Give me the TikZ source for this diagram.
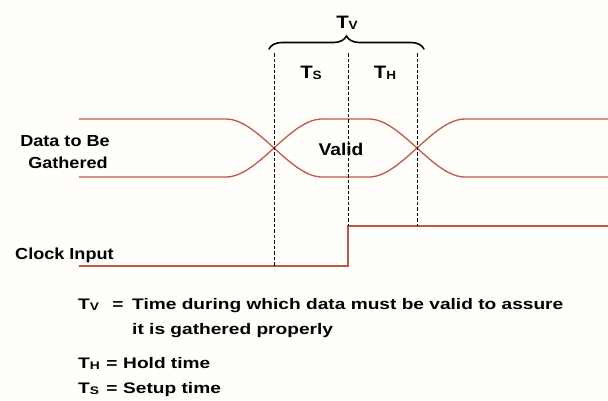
\documentclass[tikz,border=0pt]{standalone}
\usepackage{fontspec}
\setmainfont{Liberation Sans}
\newfontfamily\labfont[FakeStretch=1.13]{Liberation Sans}
\newfontfamily\legfont[FakeStretch=1.25]{Liberation Sans}
\usetikzlibrary{decorations.pathreplacing}
\definecolor{wavecol}{RGB}{192,88,72}
\definecolor{paper}{RGB}{255,254,250}
\newcommand\mysub[2][11]{\raisebox{-1pt}{\fontsize{#1}{#1}\selectfont #2}}
\begin{document}
\begin{tikzpicture}[x=1pt,y=-1pt,
  wave/.style={draw=wavecol, line width=1.3pt},
  guide/.style={draw=black, line width=0.9pt, dash pattern=on 3.5pt off 2pt},
  lab/.style={inner sep=0pt, anchor=base, font=\labfont\bfseries\fontsize{16}{16}\selectfont},
  leg/.style={inner sep=0pt, anchor=base west, font=\legfont\bfseries\fontsize{15.3}{16}\selectfont},
  tlab/.style={inner sep=0pt, anchor=base, font=\labfont\bfseries\fontsize{18}{18}\selectfont}]
\useasboundingbox (0,0) rectangle (608,400);
\fill[paper] (0,0) rectangle (608,400);
% waveform coordinates
\coordinate (ts) at (79,119);
\coordinate (bs) at (79,177);
\coordinate (l1t) at (226,119);
\coordinate (l1b) at (226,177);
\coordinate (l2t) at (322,119);
\coordinate (l2b) at (322,177);
\coordinate (r1t) at (369,119);
\coordinate (r1b) at (369,177);
\coordinate (r2t) at (465,119);
\coordinate (r2b) at (465,177);
\coordinate (te) at (608,119);
\coordinate (be) at (608,177);
% data waveform
\draw[wave] (ts) -- (l1t) .. controls (258,119) and (290,177) .. (l2b) -- (r1b)
  .. controls (401,177) and (433,119) .. (r2t) -- (te);
\draw[wave] (bs) -- (l1b) .. controls (258,177) and (290,119) .. (l2t) -- (r1t)
  .. controls (401,119) and (433,177) .. (r2b) -- (be);
% clock
\coordinate (cs) at (79,266);
\coordinate (cl) at (348,266);
\coordinate (ch) at (348,226);
\coordinate (ce) at (608,226);
\draw[wave] (cs) -- (cl) -- (ch) -- (ce);
% dashed guides
\coordinate (g1a) at (274,53);
\coordinate (g1b) at (274,266);
\coordinate (g2a) at (348,53);
\coordinate (g3a) at (417,53);
\coordinate (g3b) at (417,226);
\draw[guide] (g1a) -- (g1b);
\draw[guide] (g2a) -- (ch);
\draw[guide] (g3a) -- (g3b);
% brace
\coordinate (brl) at (269,49);
\coordinate (brr) at (424,49);
\draw[decorate, decoration={brace, amplitude=13pt}, line width=1.6pt, line cap=round] (brl) -- (brr);
% labels
\node[tlab] (tv) at (347,28) {T\mysub[12]{V}};
\node[tlab] (tsl) at (311,78) {T\mysub[12]{S}};
\node[tlab] (thl) at (385,78) {T\mysub[12]{H}};
\node[lab, font=\labfont\bfseries\fontsize{17}{17}\selectfont] (valid) at (341,155) {Valid};
\node[lab] (d1) at (65,146) {Data to Be};
\node[lab] (d2) at (68,168) {Gathered};
\node[lab, anchor=base west] (clk) at (15,259) {Clock Input};
% legend
\node[leg] (l1a) at (78,309) {T\mysub{V}};
\node[leg, anchor=base] (l1e) at (118,309) {=};
\node[leg] (l1b) at (132,309) {Time during which data must be valid to assure};
\node[leg] (l2) at (132,334) {it is gathered properly};
\node[leg] (l3a) at (78,368) {T\mysub{H}};
\node[leg, anchor=base] (l3e) at (112,368) {=};
\node[leg] (l3b) at (123,368) {Hold time};
\node[leg] (l4a) at (78,393) {T\mysub{S}};
\node[leg, anchor=base] (l4e) at (112,393) {=};
\node[leg] (l4b) at (123,393) {Setup time};
\end{tikzpicture}
\end{document}
